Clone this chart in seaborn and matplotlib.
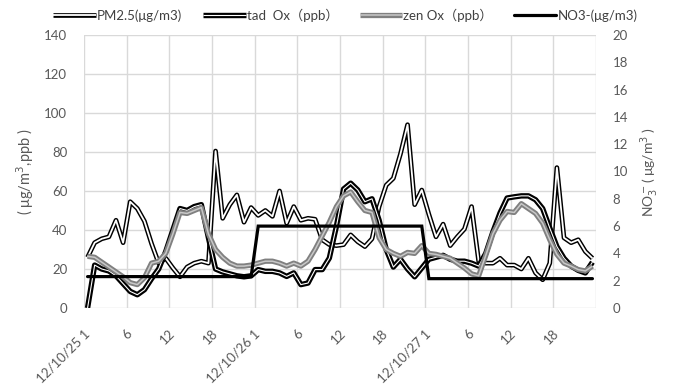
import numpy as np
import pandas as pd
import matplotlib
matplotlib.use("Agg")
import matplotlib.pyplot as plt
import matplotlib.patheffects as pe
import seaborn as sns

sns.set_theme(style="white")
plt.rcParams['font.family'] = ['Lato', 'Noto Sans CJK SC', 'DejaVu Sans']

# Hourly observations, 2012-10-25 01h to 2012-10-27 24h
pm25 = [26, 33.5, 35.5, 36.5, 45, 33.5, 54.5, 51, 44.5, 33, 23, 25.5,
        20.5, 16, 21, 23, 24, 23, 80.5, 46, 53, 58, 44, 51.5,
        47.5, 50, 47, 60, 43.5, 52, 45, 46, 45.5, 35, 32.5, 32,
        32.5, 37.5, 34, 31.5, 35.5, 52, 63, 66.5, 79, 94, 53, 60.5,
        48, 36.5, 43, 32, 36.5, 40.5, 52, 24, 23, 23, 25.5, 22,
        22, 20, 25.5, 18, 14.5, 23, 72, 36, 33.5, 35, 29, 25.5]
tad_ox = [0, 22, 20, 19, 16.5, 12.5, 8.5, 6.8, 9.4, 15, 20, 29,
          40, 51, 50, 52, 53, 36, 20, 18.5, 17.5, 16.5, 16, 16.5,
          19.7, 18.8, 18.8, 18, 16.2, 18, 12, 12.8, 19.7, 19.7, 25.6, 42,
          61, 64, 60.5, 54.5, 56, 45, 30, 21, 25, 20, 16, 20.5,
          25, 26, 27, 25, 24, 24, 23, 21.5, 28, 39, 48.7, 56.4,
          57, 57.5, 57.5, 55.5, 51, 41, 31.5, 25.5, 21.5, 19.3, 18, 23.5]
zen_ox = [26.5, 26, 23.5, 21, 18.5, 16, 13, 12, 15.5, 23, 24, 28,
          38, 49, 48.5, 50, 51.5, 38, 30, 26, 23, 21.5, 21.5, 22,
          23, 24, 24, 23, 21.5, 23, 21.5, 24, 30, 37, 44, 52,
          57.5, 59.5, 54.5, 50, 49, 36, 30, 28, 26.5, 28.5, 28, 32,
          28, 27.5, 26.5, 25.5, 23, 20.5, 17.5, 16.5, 27, 38, 45, 49.5,
          49, 53.5, 51, 48.5, 43.5, 35, 27.5, 23, 21.5, 19.7, 19, 21.5]
no3 = [2.3, 2.3, 2.3, 2.3, 2.3, 2.3, 2.3, 2.3, 2.3, 2.3, 2.3, 2.3,
       2.3, 2.3, 2.3, 2.3, 2.3, 2.3, 2.3, 2.3, 2.3, 2.3, 2.3, 2.3,
       6.0, 6.0, 6.0, 6.0, 6.0, 6.0, 6.0, 6.0, 6.0, 6.0, 6.0, 6.0,
       6.0, 6.0, 6.0, 6.0, 6.0, 6.0, 6.0, 6.0, 6.0, 6.0, 6.0, 6.0,
       2.15, 2.15, 2.15, 2.15, 2.15, 2.15, 2.15, 2.15, 2.15, 2.15, 2.15, 2.15,
       2.15, 2.15, 2.15, 2.15, 2.15, 2.15, 2.15, 2.15, 2.15, 2.15, 2.15, 2.15]
tick_positions = [0, 6, 12, 18, 24, 30, 36, 42, 48, 54, 60, 66]
tick_labels = ["12/10/25 1", "6", "12", "18", "12/10/26 1", "6", "12", "18",
               "12/10/27 1", "6", "12", "18"]
series_names = ["PM2.5(μg/m3)", "tad  Ox（ppb）", "zen Ox（ppb）", "NO3-(μg/m3)"]

df = pd.DataFrame({"hour": np.arange(len(pm25)), "pm25": pm25,
                   "tad": tad_ox, "zen": zen_ox, "no3": no3})

TEXT = "#595959"
GRID = "#d9d9d9"

W, H = 691, 391
fig = plt.figure(figsize=(W / 100, H / 100), dpi=100)
fig.patch.set_facecolor("white")
ax = fig.add_axes([84 / W, 1 - 308 / H, 512 / W, 273 / H])
ax2 = ax.twinx()


def double_line(outer_w, outer_c, inner_w, inner_c):
    """Excel-style compound line: wide outer stroke with a thin inner core."""
    return dict(color=inner_c, linewidth=inner_w, solid_joinstyle="round",
                solid_capstyle="butt",
                path_effects=[pe.Stroke(linewidth=outer_w, foreground=outer_c,
                                        joinstyle="round"), pe.Normal()])


sns.lineplot(data=df, x="hour", y="pm25", ax=ax, legend=False,
             **double_line(3.4, "black", 1.3, "white"))
sns.lineplot(data=df, x="hour", y="tad", ax=ax, legend=False,
             **double_line(3.9, "black", 0.8, "white"))
sns.lineplot(data=df, x="hour", y="zen", ax=ax, legend=False,
             **double_line(3.8, "#808080", 1.1, "#c8c8c8"))
sns.lineplot(data=df, x="hour", y="no3", ax=ax2, legend=False,
             color="black", linewidth=2.3, solid_joinstyle="miter")

# axes ranges and grid
ax.set_xlim(-0.5, len(pm25) - 0.5)
ax.set_ylim(0, 140)
ax.set_yticks(np.arange(0, 141, 20))
ax2.set_ylim(0, 20)
ax2.set_yticks(np.arange(0, 21, 2))

ax.set_xticks(tick_positions)
ax.set_xticklabels(tick_labels, rotation=45, ha="right", va="center",
                   rotation_mode="anchor")
ax.set_xticks(np.arange(-0.5, len(pm25), 6), minor=True)
ax.grid(False)
ax.grid(True, which="minor", axis="x", color=GRID, linewidth=1.0)
ax.grid(True, which="major", axis="y", color=GRID, linewidth=1.0)
ax2.grid(False)
ax.set_axisbelow(True)

for a in (ax, ax2):
    for s in a.spines.values():
        s.set_visible(False)
    a.set_xlabel("")
    a.set_ylabel("")

ax.tick_params(axis="x", which="both", length=0, pad=17, labelsize=9.5,
               labelcolor=TEXT)
ax.tick_params(axis="y", length=0, pad=12, labelsize=9.5, labelcolor=TEXT)
ax2.tick_params(axis="y", length=0, pad=12, labelsize=9.5, labelcolor=TEXT)

fig.text(25 / W, 1 - 172 / H, "( μg/m$^3$,ppb )", rotation=90, ha="center",
         va="center", fontsize=10.5, color=TEXT)
fig.text(650 / W, 1 - 172 / H, "NO$_3^-$( μg/m$^3$ )", rotation=90,
         ha="center", va="center", fontsize=10, color=TEXT)

handles = list(ax.get_lines()[:3]) + [ax2.get_lines()[0]]
fig.legend(handles, series_names, loc="center", bbox_to_anchor=(0.5, 1 - 15 / H),
           ncol=4, frameon=False, fontsize=9.5, handlelength=3.2,
           handletextpad=0.1, columnspacing=1.6, labelcolor="#404040")

fig.savefig("out.png", dpi=100, facecolor="white")
